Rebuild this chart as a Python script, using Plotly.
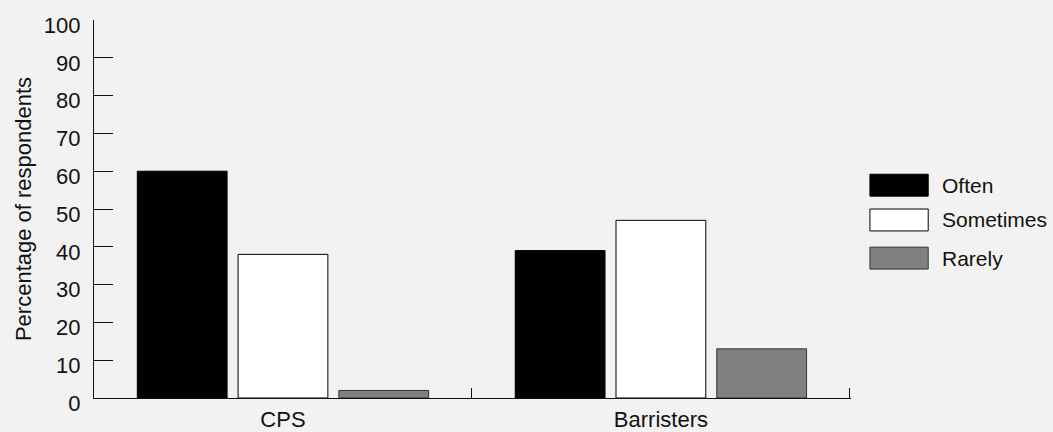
import plotly.graph_objects as go

categories = ["CPS", "Barristers"]
series_names = ["Often", "Sometimes", "Rarely"]
often = [60, 39]
sometimes = [38, 47]
rarely = [2, 13]
y_ticks = [0, 10, 20, 30, 40, 50, 60, 70, 80, 90, 100]

fills = ["#000000", "#ffffff", "#808080"]
edges = ["#000000", "#000000", "#333333"]
values = [often, sometimes, rarely]

FONT = "Liberation Sans"
BG = "#f2f2f2"
FS = 22

fig = go.Figure()
for name, vals, fc, ec in zip(series_names, values, fills, edges):
    fig.add_trace(go.Bar(
        x=categories, y=vals, name=name,
        marker=dict(color=fc, line=dict(color=ec, width=1)),
        showlegend=False,
    ))

# custom legend with large swatches
leg_y = [0.563, 0.471, 0.370]
for name, fc, ec, yy in zip(series_names, fills, edges, leg_y):
    fig.add_shape(type="rect", xref="paper", yref="paper",
                  x0=1.025, x1=1.102, y0=yy - 0.029, y1=yy + 0.029,
                  fillcolor=fc, line=dict(color=ec, width=1))
    fig.add_annotation(x=1.118, y=yy, xref="paper", yref="paper",
                       text=name, showarrow=False, xanchor="left",
                       yanchor="middle",
                       font=dict(family=FONT, size=FS - 1, color="#111"))

fig.update_layout(
    width=1053, height=432,
    margin=dict(l=94, r=202, t=20, b=34),
    paper_bgcolor=BG, plot_bgcolor=BG,
    barmode="group", bargap=0.2, bargroupgap=0.109,
    font=dict(family=FONT, size=FS, color="#111"),
    xaxis=dict(
        type="category", range=[-0.5, 1.503],
        showline=True, linecolor="#111", linewidth=1.3,
        ticks="inside", ticklen=10, tickcolor="#111", tickson="boundaries",
        showgrid=False, zeroline=False, automargin=False, ticklabelstandoff=1,
        tickfont=dict(family=FONT, size=FS),
    ),
    yaxis=dict(
        range=[0, 100], tickvals=y_ticks, showline=True, linecolor="#111",
        linewidth=1.3, ticks="inside", ticklen=19, tickcolor="#111",
        showgrid=False, zeroline=False, ticklabelstandoff=8, automargin=False,
        ticklabelshift=5,
        title=dict(text="Percentage of respondents", standoff=6,
                   font=dict(family=FONT, size=FS)),
        tickfont=dict(family=FONT, size=FS),
    ),
)

fig.write_html("out.html", config={"displayModeBar": False},
               post_script="document.body.style.margin='0';document.body.style.overflow='hidden';")
